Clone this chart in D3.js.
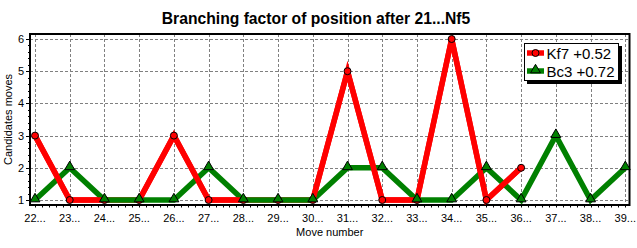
<!DOCTYPE html>
<html lang="en">
<head>
    <meta charset="UTF-8">
    <title>Branching factor</title>
    <script src="https://d3js.org/d3.v7.min.js"></script>
    <style>
        body { margin: 0; background: #fff; }
        text { font-family: "Liberation Sans", Arial, sans-serif; fill: #000; }
    </style>
</head>
<body>
    <svg width="637" height="248"></svg>

    <script>
        // chart data
        const moves = [22, 23, 24, 25, 26, 27, 28, 29, 30, 31, 32, 33, 34, 35, 36, 37, 38, 39];
        const kf7Values = [3, 1, 1, 1, 3, 1, 1, 1, 1, 5, 1, 1, 6, 1, 2];
        const bc3Values = [1, 2, 1, 1, 1, 2, 1, 1, 1, 2, 2, 1, 1, 2, 1, 3, 1, 2];
        const yTicks = [1, 2, 3, 4, 5, 6];
        const seriesNames = ["Kf7 +0.52", "Bc3 +0.72"];

        const kf7 = kf7Values.map((v, i) => ({ move: moves[i], value: v }));
        const bc3 = bc3Values.map((v, i) => ({ move: moves[i], value: v }));

        // plot frame
        const frame = { left: 30, right: 629.5, top: 34, bottom: 205 };

        const svg = d3.select("svg");

        const xScale = d3.scaleLinear().domain([22, 39]).range([35, 625.3]);
        const yScale = d3.scaleLinear().domain([1, 6]).range([200, 39]);

        // title
        svg.append("text")
           .attr("x", 316)
           .attr("y", 24)
           .attr("text-anchor", "middle")
           .style("font-size", "15.7px")
           .style("font-weight", "bold")
           .text("Branching factor of position after 21...Nf5");

        // grid
        const grid = svg.append("g")
            .attr("stroke", "#808080")
            .attr("stroke-dasharray", "3,2")
            .attr("stroke-width", 1);

        grid.selectAll("line.h")
            .data(yTicks)
            .enter()
            .append("line")
            .attr("x1", frame.left)
            .attr("x2", frame.right)
            .attr("y1", d => Math.round(yScale(d)) + 0.5)
            .attr("y2", d => Math.round(yScale(d)) + 0.5);

        grid.selectAll("line.v")
            .data(moves)
            .enter()
            .append("line")
            .attr("x1", d => Math.round(xScale(d)) + 0.5)
            .attr("x2", d => Math.round(xScale(d)) + 0.5)
            .attr("y1", frame.top)
            .attr("y2", frame.bottom + 4);

        // minor ticks
        const minorY = d3.range(1, 6.01, 0.2);
        const minorX = d3.range(22, 39.01, 0.2);

        svg.append("g")
           .attr("stroke", "#000")
           .selectAll("line")
           .data(minorY)
           .enter()
           .append("line")
           .attr("x1", frame.left - 2)
           .attr("x2", frame.left)
           .attr("y1", d => Math.round(yScale(d)) + 0.5)
           .attr("y2", d => Math.round(yScale(d)) + 0.5);

        svg.append("g")
           .attr("stroke", "#000")
           .selectAll("line")
           .data(minorX)
           .enter()
           .append("line")
           .attr("x1", d => Math.round(xScale(d)) + 0.5)
           .attr("x2", d => Math.round(xScale(d)) + 0.5)
           .attr("y1", frame.bottom)
           .attr("y2", frame.bottom + 2.5);

        // major ticks on y
        svg.append("g")
           .attr("stroke", "#000")
           .selectAll("line")
           .data(yTicks)
           .enter()
           .append("line")
           .attr("x1", frame.left - 4)
           .attr("x2", frame.left)
           .attr("y1", d => Math.round(yScale(d)) + 0.5)
           .attr("y2", d => Math.round(yScale(d)) + 0.5);

        // frame
        svg.append("rect")
           .attr("x", frame.left)
           .attr("y", frame.top)
           .attr("width", frame.right - frame.left)
           .attr("height", frame.bottom - frame.top)
           .attr("fill", "none")
           .attr("stroke", "#000")
           .attr("stroke-width", 2);

        // tick labels
        svg.selectAll("text.ylab")
           .data(yTicks)
           .enter()
           .append("text")
           .attr("class", "ylab")
           .attr("x", 24)
           .attr("y", d => yScale(d) + 4)
           .attr("text-anchor", "end")
           .style("font-size", "11px")
           .text(d => d);

        svg.selectAll("text.xlab")
           .data(moves)
           .enter()
           .append("text")
           .attr("class", "xlab")
           .attr("x", d => xScale(d))
           .attr("y", 222)
           .attr("text-anchor", "middle")
           .style("font-size", "11px")
           .text(d => d + "...");

        // axis titles
        svg.append("text")
           .attr("x", (frame.left + frame.right) / 2)
           .attr("y", 236)
           .attr("text-anchor", "middle")
           .style("font-size", "11px")
           .text("Move number");

        svg.append("text")
           .attr("transform", `translate(12, ${(frame.top + frame.bottom) / 2}) rotate(-90)`)
           .attr("text-anchor", "middle")
           .style("font-size", "11px")
           .text("Candidates moves");

        // lines
        const line = d3.line()
            .x(d => xScale(d.move))
            .y(d => yScale(d.value));

        const lineWidth = 5.5;

        svg.append("path")
           .datum(kf7)
           .attr("fill", "none")
           .attr("stroke", "#ff0000")
           .attr("stroke-width", lineWidth)
           .attr("d", line);

        svg.append("path")
           .datum(bc3)
           .attr("fill", "none")
           .attr("stroke", "#008000")
           .attr("stroke-width", lineWidth)
           .attr("d", line);

        // red segments crossing green are drawn on top
        const redTop = d3.pairs(kf7).filter(([a, b], i) =>
            !(bc3[i].value === a.value && bc3[i + 1].value === b.value));

        svg.selectAll("path.redtop")
           .data(redTop)
           .enter()
           .append("path")
           .attr("class", "redtop")
           .attr("fill", "none")
           .attr("stroke", "#ff0000")
           .attr("stroke-width", lineWidth)
           .attr("d", d => line(d));

        // markers
        const triangle = d3.symbol().type(d3.symbolTriangle).size(42);

        svg.selectAll("circle.kf7")
           .data(kf7)
           .enter()
           .append("circle")
           .attr("class", "kf7")
           .attr("cx", d => xScale(d.move))
           .attr("cy", d => yScale(d.value))
           .attr("r", 3.5)
           .attr("fill", "#ff0000")
           .attr("stroke", "#000")
           .attr("stroke-width", 1);

        svg.selectAll("path.bc3")
           .data(bc3)
           .enter()
           .append("path")
           .attr("class", "bc3")
           .attr("transform", d => `translate(${xScale(d.move)}, ${yScale(d.value) - 1})`)
           .attr("d", triangle)
           .attr("fill", "#008000")
           .attr("stroke", "#000")
           .attr("stroke-width", 1);

        // legend
        const legend = svg.append("g");
        legend.append("rect")
              .attr("x", 527).attr("y", 46)
              .attr("width", 95).attr("height", 38)
              .attr("fill", "#000");
        legend.append("rect")
              .attr("x", 524.5).attr("y", 43.5)
              .attr("width", 94).attr("height", 37)
              .attr("fill", "#fff")
              .attr("stroke", "#000");

        const colors = ["#ff0000", "#008000"];
        seriesNames.forEach((name, i) => {
            const cy = 53 + i * 18;
            legend.append("line")
                  .attr("x1", 527).attr("x2", 544)
                  .attr("y1", cy).attr("y2", cy)
                  .attr("stroke", colors[i])
                  .attr("stroke-width", lineWidth);
            if (i === 0) {
                legend.append("circle")
                      .attr("cx", 535.5).attr("cy", cy).attr("r", 3.5)
                      .attr("fill", colors[i]).attr("stroke", "#000");
            } else {
                legend.append("path")
                      .attr("transform", `translate(535.5, ${cy - 1})`)
                      .attr("d", triangle)
                      .attr("fill", colors[i]).attr("stroke", "#000");
            }
            legend.append("text")
                  .attr("x", 546.5)
                  .attr("y", cy + 6)
                  .style("font-size", "15px")
                  .text(name);
        });
    </script>
</body>
</html>
